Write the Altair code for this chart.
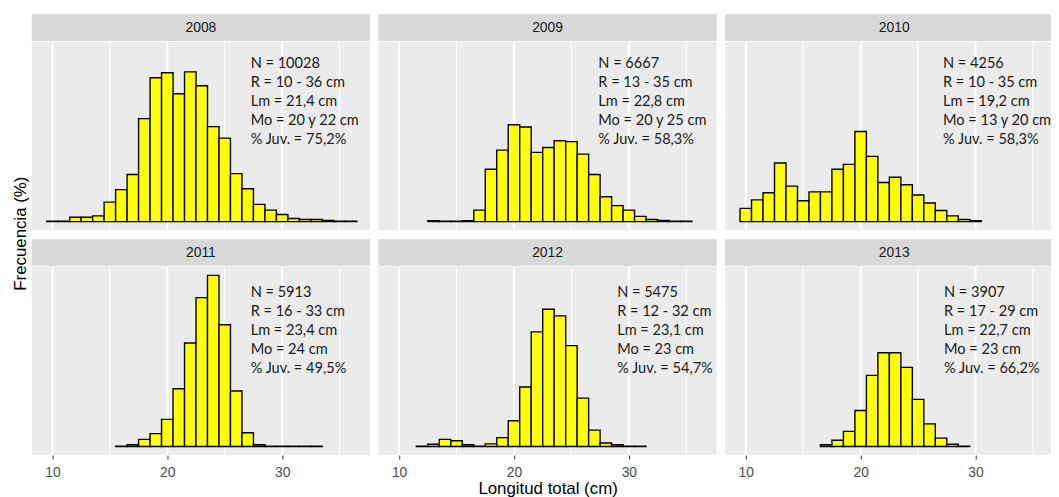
import altair as alt
import pandas as pd

# ---------------- data ----------------
years = ["2008", "2009", "2010", "2011", "2012", "2013"]
first_len = [10, 13, 10, 16, 12, 17]   # first length class (cm) of each series

freq_2008 = [0.01, 0.01, 0.10, 0.10, 0.13, 0.44, 0.72, 1.06, 2.32, 3.24, 3.35, 2.88, 3.37, 3.06,
             2.14, 1.88, 1.08, 0.74, 0.39, 0.26, 0.16, 0.07, 0.05, 0.05, 0.03, 0.01, 0.01]
freq_2009 = [0.02, 0.01, 0.01, 0.02, 0.26, 1.18, 1.61, 2.18, 2.13, 1.56, 1.67, 1.82, 1.80, 1.52,
             1.06, 0.56, 0.36, 0.26, 0.12, 0.05, 0.03, 0.01, 0.01]
freq_2010 = [0.30, 0.49, 0.65, 1.32, 0.80, 0.47, 0.67, 0.67, 1.18, 1.29, 2.03, 1.47, 0.88, 1.00,
             0.83, 0.60, 0.42, 0.25, 0.13, 0.05, 0.02]
freq_2011 = [0.01, 0.04, 0.16, 0.29, 0.61, 1.30, 2.33, 3.35, 3.85, 2.74, 1.25, 0.31, 0.04, 0.01,
             0.01, 0.01, 0.01, 0.01]
freq_2012 = [0.01, 0.05, 0.16, 0.13, 0.04, 0.01, 0.06, 0.20, 0.58, 1.34, 2.58, 3.09, 2.94, 2.27,
             1.09, 0.37, 0.08, 0.04, 0.01, 0.01]
freq_2013 = [0.04, 0.14, 0.34, 0.81, 1.60, 2.11, 2.11, 1.78, 1.06, 0.51, 0.19, 0.05, 0.01]

n_labels = ["N = 10028", "N = 6667", "N = 4256", "N = 5913", "N = 5475", "N = 3907"]
r_labels = ["R = 10 - 36 cm", "R = 13 - 35 cm", "R = 10 - 35 cm",
            "R = 16 - 33 cm", "R = 12 - 32 cm", "R = 17 - 29 cm"]
lm_labels = ["Lm = 21,4 cm", "Lm = 22,8 cm", "Lm = 19,2 cm",
             "Lm = 23,4 cm", "Lm = 23,1 cm", "Lm = 22,7 cm"]
mo_labels = ["Mo = 20 y 22 cm", "Mo = 20 y 25 cm", "Mo = 13 y 20 cm",
             "Mo = 24 cm", "Mo = 23 cm", "Mo = 23 cm"]
juv_labels = ["% Juv. = 75,2%", "% Juv. = 58,3%", "% Juv. = 58,3%",
              "% Juv. = 49,5%", "% Juv. = 54,7%", "% Juv. = 66,2%"]

x_ticks = [10, 20, 30]
major_grid = [10, 20, 30]
minor_grid = [15, 25, 35]

x_title = "Longitud total (cm)"
y_title = "Frecuencia (%)"

# ---------------- tables ----------------
freqs = [freq_2008, freq_2009, freq_2010, freq_2011, freq_2012, freq_2013]
rows = []
for yr, start, f in zip(years, first_len, freqs):
    for k, v in enumerate(f):
        rows.append({"year": yr, "length": start + k, "freq": v})
df = pd.DataFrame(rows)
major_df = pd.DataFrame({"g": major_grid})
minor_df = pd.DataFrame({"g": minor_grid})
one = pd.DataFrame({"k": [0]})

# ---------------- layout / style ----------------
PANEL_W = 341.5
LAST_W = 329          # right column is cut by the picture edge
PANEL_H = 190
STRIP_H = 27
X_MIN, X_MAX = 8.2, 37.65
PX_PER_CM = PANEL_W / (X_MAX - X_MIN)
YMAX = max(max(f) for f in freqs)
Y_DOM = [-0.05 * YMAX, 1.05 * YMAX]

ann_x = [221, 222, 220, 221, 241, 221]
ann_y = [14, 14, 14, 18, 18, 18]

AX_FONT = "Liberation Sans"
TXT_FONT = "Lato"


def strip(i, width):
    bg = alt.Chart(one).mark_rect(fill="#D9D9D9").encode(
        x=alt.value(0), x2=alt.value(width), y=alt.value(0), y2=alt.value(STRIP_H))
    lab = alt.Chart(one).mark_text(font=AX_FONT, fontSize=14, color="#1A1A1A",
                                   baseline="middle", align="center").encode(
        x=alt.value(PANEL_W / 2), y=alt.value(STRIP_H / 2 + 0.5), text=alt.value(years[i]))
    return alt.layer(bg, lab).properties(width=width, height=STRIP_H)


def plot(i, width):
    xmax = X_MIN + width / PX_PER_CM
    xs = alt.Scale(domain=[X_MIN, xmax], nice=False, zero=False)
    ys = alt.Scale(domain=Y_DOM, nice=False, zero=False)
    bottom = i >= 3
    if bottom:
        xaxis = alt.Axis(values=x_ticks, grid=False, domain=False, ticks=True,
                         tickColor="#333333", tickSize=4, tickWidth=1,
                         labelColor="#4D4D4D", labelFont=AX_FONT, labelFontSize=14,
                         labelPadding=7,
                         title=x_title if i == 4 else None,
                         titleFont=AX_FONT, titleFontSize=17, titleFontWeight="normal",
                         titleColor="#000000", titlePadding=1)
    else:
        xaxis = None
    major = alt.Chart(major_df).mark_rule(color="white", strokeWidth=2).encode(
        x=alt.X("g:Q", scale=xs, axis=xaxis))
    minor = alt.Chart(minor_df).mark_rule(color="white", strokeWidth=1, clip=True).encode(
        x=alt.X("g:Q", scale=xs, axis=xaxis))
    bars = alt.Chart(df[df.year == years[i]]).transform_calculate(
        x0="datum.length - 0.5", x1="datum.length + 0.5"
    ).mark_bar(fill="#FFFF00", stroke="#000000", strokeWidth=1.4, clip=True).encode(
        x=alt.X("x0:Q", scale=xs, axis=xaxis), x2="x1:Q",
        y=alt.Y("freq:Q", scale=ys, axis=None), y2=alt.datum(0))
    ann = alt.Chart(one).mark_text(font=TXT_FONT, fontSize=14.7, lineHeight=19.2,
                                   align="left", baseline="top", color="#1A1A1A",
                                   clip=True).encode(
        x=alt.value(ann_x[i]), y=alt.value(ann_y[i]),
        text=alt.value([n_labels[i], r_labels[i], lm_labels[i], mo_labels[i], juv_labels[i]]))
    return alt.layer(major, minor, bars, ann).properties(width=width, height=PANEL_H)


def panel(i):
    w = LAST_W if i % 3 == 2 else PANEL_W
    return alt.vconcat(strip(i, w), plot(i, w), spacing=0)


row1 = alt.hconcat(panel(0), panel(1), panel(2), spacing=8)
row2 = alt.hconcat(panel(3), panel(4), panel(5), spacing=8)

chart = alt.vconcat(row1, row2, spacing=8).properties(
    title=alt.TitleParams(y_title, orient="left", anchor="middle", font=AX_FONT,
                          fontSize=17, fontWeight="normal", color="#000000",
                          offset=2, dx=22),
    padding={"top": 4, "left": 3, "right": 0, "bottom": 0},
    background="white",
).configure_view(fill="#EBEBEB", strokeWidth=0)

chart.save("out.html", embed_options={"renderer": "svg", "actions": False})
